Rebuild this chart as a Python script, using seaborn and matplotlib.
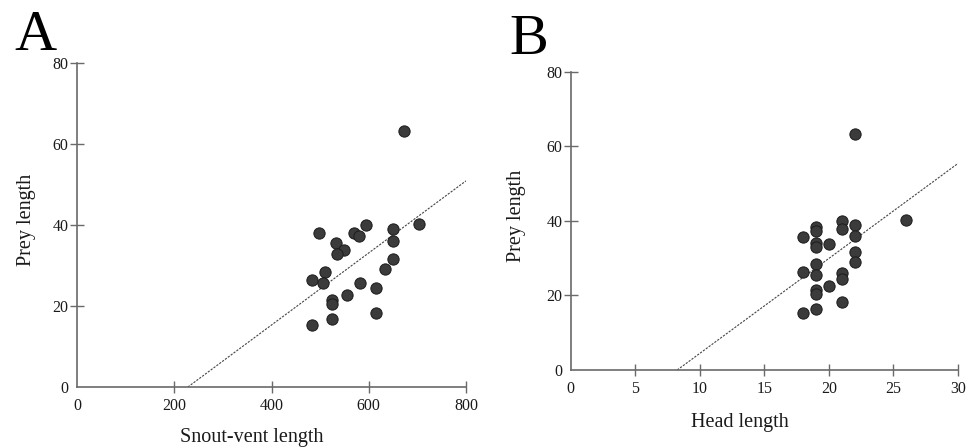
import matplotlib
matplotlib.use("Agg")
import matplotlib.pyplot as plt
import seaborn as sns
import pandas as pd

# Panel A data: snout-vent length vs prey length
svl = [673, 498, 532, 550, 535, 569, 580, 594, 649, 649, 649, 634, 703,
       511, 484, 506, 583, 614, 555, 524, 524, 614, 524, 484]
prey_a = [63.2, 38.0, 35.6, 33.9, 32.9, 38.0, 37.4, 40.0, 39.1, 36.1, 31.7, 29.1, 40.2,
          28.5, 26.3, 25.7, 25.7, 24.4, 22.6, 21.6, 20.5, 18.3, 16.7, 15.4]
fit_a_x = [228, 800]
fit_a_y = [0, 50.9]

# Panel B data: head length vs prey length
head = [22, 26, 21, 21, 22, 22, 22, 22, 19, 19, 18, 19, 19, 20, 19, 18, 19,
        21, 21, 20, 19, 19, 21, 19, 18]
prey_b = [63.2, 40.2, 40.0, 37.9, 39.0, 36.0, 31.7, 29.0, 38.3, 37.2, 35.6, 34.1, 32.9,
          33.8, 28.4, 26.3, 25.6, 25.9, 24.3, 22.5, 21.5, 20.4, 18.3, 16.4, 15.4]
fit_b_x = [8.25, 30]
fit_b_y = [0, 55.4]

xticks_a = [0, 200, 400, 600, 800]
xticks_b = [0, 5, 10, 15, 20, 25, 30]
yticks = [0, 20, 40, 60, 80]

sns.set_style("ticks")
plt.rcParams['font.family'] = ['Liberation Serif', 'DejaVu Serif']

fig = plt.figure(figsize=(9.68, 4.48), dpi=100)
W, H = 968, 448

def make_ax(x0, x1, y0, y1):
    return fig.add_axes([x0 / W, 1 - y1 / H, (x1 - x0) / W, (y1 - y0) / H])

axA = make_ax(77, 466, 63, 387)
axB = make_ax(570.7, 958, 71.7, 370)

spine_col = "#6a6a6a"
pt_face = "#3b3b3b"
pt_edge = "#1c1c1c"
txt_col = "#1a1a1a"

def style(ax, xt, xl, xlab, label_xy_x, label_xy_y):
    sns.despine(ax=ax)
    for s in ["left", "bottom"]:
        ax.spines[s].set_color(spine_col)
        ax.spines[s].set_linewidth(1.2)
    ax.set_xlim(xl)
    ax.set_ylim(0, 80)
    ax.set_xticks(xt)
    ax.set_yticks(yticks)
    ax.set_xticklabels([str(v) for v in xt])
    ax.set_yticklabels([str(v) for v in yticks])
    ax.tick_params(axis="both", direction="inout", length=10, width=1.0,
                   color=spine_col, labelsize=11.5, labelcolor=txt_col)
    ax.tick_params(axis="x", pad=3.5, length=9)
    ax.tick_params(axis="y", pad=1)
    ax.set_xlabel(xlab, fontsize=14.5, color=txt_col)
    ax.set_ylabel("Prey length", fontsize=14.5, color=txt_col)
    ax.xaxis.set_label_coords(*label_xy_x)
    ax.yaxis.set_label_coords(*label_xy_y)
    ax.xaxis.label.set_va("center")
    ax.yaxis.label.set_va("center")
    ax.grid(False)
    # no tick marks at the origin
    ax.xaxis.get_major_ticks()[0].tick1line.set_visible(False)
    ax.yaxis.get_major_ticks()[0].tick1line.set_visible(False)

dfA = pd.DataFrame({"x": svl, "y": prey_a})
dfB = pd.DataFrame({"x": head, "y": prey_b})
fitA = pd.DataFrame({"x": fit_a_x, "y": fit_a_y})
fitB = pd.DataFrame({"x": fit_b_x, "y": fit_b_y})

for ax, df, fit in [(axA, dfA, fitA), (axB, dfB, fitB)]:
    sns.lineplot(data=fit, x="x", y="y", ax=ax, color="#444444", linewidth=0.8,
                 linestyle=(0, (2, 1.2)), zorder=2)
    sns.scatterplot(data=df, x="x", y="y", ax=ax, s=66, color=pt_face,
                    edgecolor=pt_edge, linewidth=0.7, zorder=3, clip_on=False)

style(axA, xticks_a, (0, 800), "Snout-vent length",
      ((252 - 77) / (466 - 77), -(437 - 387) / (387 - 63)),
      (-(77 - 27) / (466 - 77), (387 - 220) / (387 - 63)))
style(axB, xticks_b, (0, 30), "Head length",
      ((740 - 570.7) / (958 - 570.7), -(422 - 370) / (370 - 71.7)),
      (-(570.7 - 517) / (958 - 570.7), (370 - 216) / (370 - 71.7)))

fig.text(35 / W, 1 - 50 / H, "A", fontsize=42, ha="center", va="baseline", color="black")
fig.text(529 / W, 1 - 54 / H, "B", fontsize=42, ha="center", va="baseline", color="black")

fig.savefig("out.png", dpi=100, facecolor="white")
